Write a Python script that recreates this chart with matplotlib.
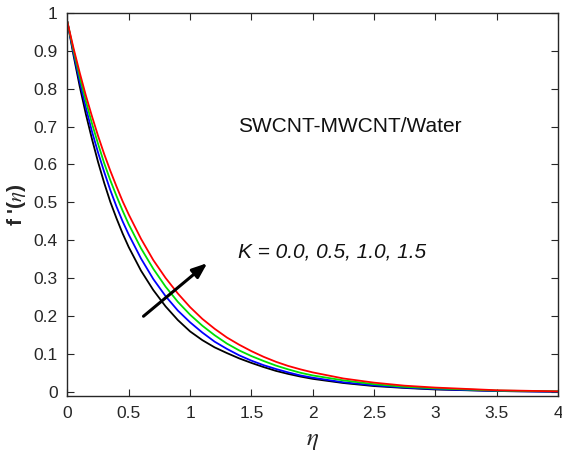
import matplotlib
matplotlib.use("Agg")
import matplotlib.pyplot as plt

plt.rcParams['font.family'] = ['Liberation Sans', 'DejaVu Sans']
plt.rcParams['mathtext.fontset'] = 'stix'

# similarity variable
eta = [0.0, 0.05, 0.1, 0.15, 0.2, 0.25, 0.3, 0.35, 0.4, 0.45, 0.5,
       0.6, 0.7, 0.8, 0.9, 1.0, 1.1, 1.2, 1.3, 1.4, 1.5, 1.6, 1.7, 1.8, 1.9, 2.0,
       2.25, 2.5, 2.75, 3.0, 3.5, 4.0]

# velocity profiles f'(eta) for K = 0.0, 0.5, 1.0, 1.5
f_K00 = [0.975, 0.887, 0.806, 0.733, 0.667, 0.606, 0.551, 0.501, 0.458, 0.418, 0.382,
         0.320, 0.269, 0.226, 0.190, 0.160, 0.137, 0.118, 0.103, 0.089, 0.077, 0.066,
         0.056, 0.048, 0.041, 0.035, 0.024, 0.016, 0.011, 0.007, 0.003, 0.001]
f_K05 = [0.975, 0.893, 0.818, 0.750, 0.687, 0.631, 0.580, 0.532, 0.489, 0.450, 0.415,
         0.352, 0.298, 0.253, 0.215, 0.184, 0.157, 0.133, 0.114, 0.097, 0.083, 0.071,
         0.061, 0.052, 0.044, 0.038, 0.026, 0.018, 0.012, 0.008, 0.003, 0.001]
f_K10 = [0.975, 0.900, 0.831, 0.767, 0.708, 0.654, 0.603, 0.558, 0.517, 0.478, 0.442,
         0.379, 0.325, 0.278, 0.238, 0.204, 0.175, 0.150, 0.128, 0.110, 0.095, 0.082,
         0.070, 0.060, 0.051, 0.044, 0.031, 0.021, 0.014, 0.010, 0.004, 0.002]
f_K15 = [0.975, 0.906, 0.842, 0.782, 0.727, 0.675, 0.627, 0.583, 0.542, 0.503, 0.468,
         0.404, 0.348, 0.301, 0.260, 0.224, 0.193, 0.167, 0.144, 0.125, 0.108, 0.093,
         0.080, 0.069, 0.060, 0.052, 0.036, 0.025, 0.017, 0.012, 0.005, 0.002]

profiles = [f_K00, f_K05, f_K10, f_K15]
colors = ['black', 'blue', '#00e000', 'red']

fig = plt.figure(figsize=(5.62, 4.62), dpi=100)
ax = fig.add_axes([0.12, 0.143, 0.873, 0.8295])

for f, c in zip(profiles, colors):
    ax.plot(eta, f, color=c, lw=1.3, solid_joinstyle='round')

ax.set_xlim(0, 4)
ax.set_ylim(-0.01, 1)
ax.set_xticks([0, 0.5, 1, 1.5, 2, 2.5, 3, 3.5, 4])
ax.set_xticklabels(['0', '0.5', '1', '1.5', '2', '2.5', '3', '3.5', '4'])
ax.set_yticks([0, 0.1, 0.2, 0.3, 0.4, 0.5, 0.6, 0.7, 0.8, 0.9, 1])
ax.set_yticklabels(['0', '0.1', '0.2', '0.3', '0.4', '0.5', '0.6', '0.7', '0.8', '0.9', '1'])

axis_col = '#262626'
for s in ax.spines.values():
    s.set_color(axis_col)
    s.set_linewidth(1.0)
ax.tick_params(direction='in', top=True, right=True, length=5, width=0.8,
               color=axis_col, labelcolor=axis_col, labelsize=12.5, pad=7)

ax.set_xlabel(r'$\eta$', fontsize=18, color=axis_col, labelpad=5)
ax.set_ylabel(r"f '($\eta$)", fontsize=15, fontweight='bold', color=axis_col, labelpad=4)

ax.text(1.39, 0.70, 'SWCNT-MWCNT/Water', fontsize=15, color='#111111',
        ha='left', va='center')
ax.text(1.39, 0.37, 'K = 0.0, 0.5, 1.0, 1.5', fontsize=15, style='italic',
        color='#111111', ha='left', va='center')

ax.annotate('', xy=(1.14, 0.34), xytext=(0.62, 0.20),
            arrowprops=dict(arrowstyle='-|>,head_length=0.9,head_width=0.35',
                            color='black', lw=2.2, shrinkA=0, shrinkB=0))

fig.savefig('out.png', dpi=100)
